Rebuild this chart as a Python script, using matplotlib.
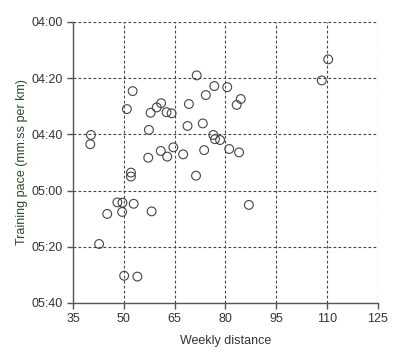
import matplotlib
matplotlib.use('Agg')
import matplotlib.pyplot as plt
from matplotlib.ticker import FuncFormatter

# weekly distance (km) vs training pace (seconds per km)
distance = [52.6, 50.9, 61.0, 59.7, 57.9, 62.6, 64.1, 69.2, 71.5, 68.8,
            57.4, 40.3, 40.1, 57.2, 60.9, 62.8, 64.6, 67.5, 52.1, 52.1,
            71.3, 73.3, 73.7, 110.3, 108.4, 80.5, 76.7, 74.2, 84.5, 83.3,
            76.4, 76.9, 78.4, 81.1, 84.0, 86.9, 48.1, 49.6, 52.9, 45.1,
            49.5, 58.2, 42.7, 50.1, 54.0]
pace = [264.6, 271.0, 268.9, 270.4, 272.3, 272.1, 272.5, 269.2, 259.0, 277.0,
        278.4, 280.2, 283.5, 288.3, 285.9, 287.9, 284.6, 287.1, 293.6, 295.0,
        294.7, 276.1, 285.6, 253.3, 260.8, 263.2, 262.8, 266.0, 267.4, 269.5,
        280.2, 281.7, 282.0, 285.2, 286.4, 305.1, 304.2, 304.3, 304.7, 308.3,
        307.6, 307.4, 319.0, 330.3, 330.6]

x_ticks = [35, 50, 65, 80, 95, 110, 125]
y_ticks = [240, 260, 280, 300, 320, 340]

plt.rcParams['font.family'] = ['Liberation Sans', 'DejaVu Sans']

fig = plt.figure(figsize=(4.0, 3.64), dpi=100)
ax = fig.add_axes([0.1825, 0.1676, 0.7625, 0.772])

ax.scatter(distance, pace, s=40, facecolors='none', edgecolors='#444444',
           linewidths=0.8, zorder=3)

ax.set_xlim(35, 125)
ax.set_ylim(340, 240)
ax.set_xticks(x_ticks)
ax.set_yticks(y_ticks)
ax.yaxis.set_major_formatter(FuncFormatter(lambda v, p: f"{int(v)//60:02d}:{int(v)%60:02d}"))

ax.grid(True, color='#444444', linestyle=(0, (2.5, 2)), linewidth=0.8)
ax.set_axisbelow(True)
for s in ['top', 'right']:
    ax.spines[s].set_visible(False)
for s in ['left', 'bottom']:
    ax.spines[s].set_color('#555555')
    ax.spines[s].set_linewidth(1.0)

ax.tick_params(direction='out', length=4, width=1, color='#555555',
               labelsize=9, labelcolor='#333333')
ax.set_xlabel('Weekly distance', fontsize=9, color='#333333', labelpad=7)
ax.set_ylabel('Training pace (mm:ss per km)', fontsize=9, color='#2b4a2b', labelpad=2)

fig.savefig('out.png', dpi=100)
